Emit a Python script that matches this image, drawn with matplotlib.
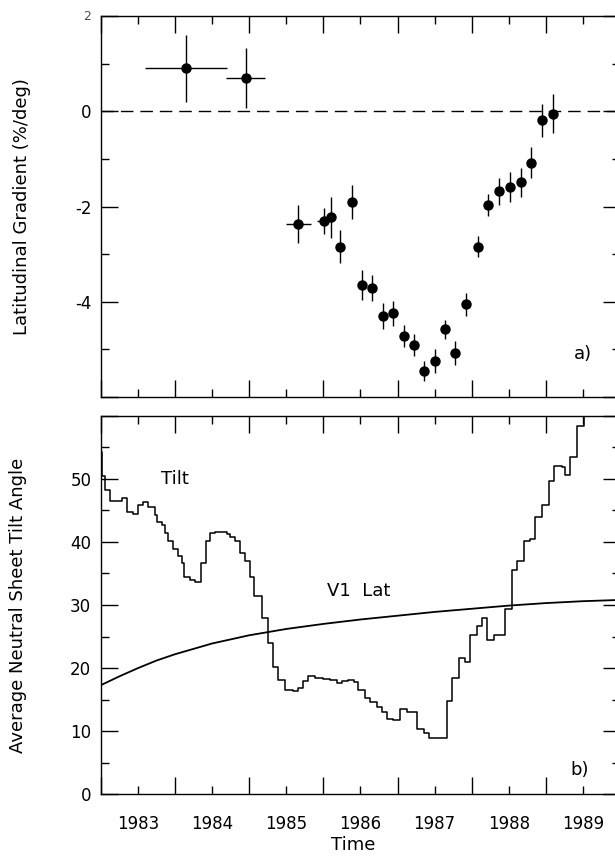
# Latitudinal gradient and neutral sheet tilt vs time (two stacked panels)

import matplotlib
matplotlib.use('Agg')
import matplotlib.pyplot as plt
import numpy as np

plt.rcParams['figure.dpi'] = 100
plt.rcParams['savefig.dpi'] = 100
plt.rcParams['font.family'] = 'DejaVu Sans'
plt.rcParams['font.size'] = 12
plt.rcParams['axes.linewidth'] = 1.0

# Panel a) latitudinal gradient (%/deg)
grad_time = [1984.15, 1984.95, 1985.66, 1986.01, 1986.10, 1986.23, 1986.38,
             1986.52, 1986.66, 1986.80, 1986.94, 1987.09, 1987.22, 1987.35,
             1987.50, 1987.64, 1987.78, 1987.92, 1988.08, 1988.22, 1988.37,
             1988.51, 1988.66, 1988.80, 1988.95, 1989.09]
grad_value = [0.90, 0.69, -2.37, -2.31, -2.23, -2.84, -1.91,
              -3.65, -3.71, -4.30, -4.24, -4.72, -4.91, -5.45,
              -5.24, -4.58, -5.07, -4.05, -2.84, -1.97, -1.68,
              -1.59, -1.49, -1.08, -0.19, -0.05]
grad_err = [0.70, 0.63, 0.40, 0.27, 0.43, 0.34, 0.36,
            0.31, 0.28, 0.28, 0.26, 0.23, 0.23, 0.21,
            0.25, 0.20, 0.25, 0.24, 0.22, 0.23, 0.28,
            0.32, 0.30, 0.33, 0.35, 0.41]
grad_terr = [0.55, 0.26, 0.17, 0.10, 0, 0, 0,
             0, 0, 0, 0, 0, 0, 0,
             0, 0, 0, 0, 0, 0, 0,
             0, 0, 0, 0, 0]

# Panel b) average neutral sheet tilt angle (step per rotation)
tilt_time = [1983.00, 1983.02, 1983.054, 1983.121, 1983.279, 1983.346, 1983.436,
             1983.504, 1983.571, 1983.639, 1983.729, 1983.751, 1983.819, 1983.864,
             1983.909, 1983.976, 1984.043, 1984.088, 1984.124, 1984.201, 1984.268,
             1984.350, 1984.417, 1984.471, 1984.538, 1984.696, 1984.741, 1984.808,
             1984.876, 1984.943, 1985.011, 1985.070, 1985.168, 1985.258, 1985.325,
             1985.393, 1985.483, 1985.596, 1985.663, 1985.731, 1985.798, 1985.888,
             1986.000, 1986.090, 1986.180, 1986.248, 1986.338, 1986.406, 1986.473,
             1986.563, 1986.630, 1986.720, 1986.788, 1986.855, 1986.945, 1987.035,
             1987.125, 1987.193, 1987.260, 1987.350, 1987.418, 1987.665, 1987.733,
             1987.823, 1987.913, 1987.980, 1988.070, 1988.138, 1988.205, 1988.295,
             1988.452, 1988.542, 1988.610, 1988.700, 1988.789, 1988.857, 1988.947,
             1989.037, 1989.104, 1989.217, 1989.262, 1989.329, 1989.419, 1989.509,
             1989.600]
tilt_value = [54.3, 50.5, 48.3, 46.5, 47.0, 44.8, 44.4,
              45.9, 46.3, 45.5, 44.3, 43.2, 42.7, 41.4,
              40.2, 38.8, 37.7, 36.6, 34.5, 33.9, 33.7,
              36.6, 40.2, 41.4, 41.5, 41.2, 40.8, 40.2,
              38.3, 37.0, 34.5, 31.4, 28.0, 23.9, 20.2,
              18.1, 16.5, 16.3, 16.8, 17.9, 18.7, 18.5,
              18.3, 18.1, 17.6, 17.9, 18.1, 17.8, 16.5,
              15.2, 14.7, 13.9, 13.1, 12.0, 11.8, 13.5,
              13.1, 13.0, 10.3, 9.7, 8.9, 14.8, 18.4,
              21.6, 21.0, 25.3, 26.6, 27.9, 24.5, 25.3,
              29.4, 35.6, 36.9, 40.2, 40.4, 43.9, 45.9,
              49.6, 52.1, 51.9, 50.6, 53.4, 58.3, 62.0,
              62.0]

# Voyager 1 heliographic latitude
v1_time = [1983.0, 1983.25, 1983.5, 1983.75, 1984.0, 1984.5, 1985.0, 1985.5,
           1986.0, 1986.5, 1987.0, 1987.5, 1988.0, 1988.5, 1989.0, 1989.5, 1990.0]
v1_lat = [17.3, 18.7, 20.0, 21.2, 22.2, 23.9, 25.2, 26.2,
          27.0, 27.7, 28.3, 28.9, 29.4, 29.9, 30.3, 30.6, 30.8]

year_labels = ['1983', '1984', '1985', '1986', '1987', '1988', '1989']

fig = plt.figure(figsize=(6.15, 8.56))
ax1 = fig.add_axes([0.1642, 0.5362, 0.8439, 0.4451])
ax2 = fig.add_axes([0.1642, 0.0721, 0.8439, 0.4423])

def style_axes(ax):
    ax.set_xlim(1983, 1990)
    ax.set_xticks(np.arange(1983, 1991, 1.0))
    ax.set_xticks(np.arange(1983.5, 1990, 1.0), minor=True)
    ax.tick_params(which='both', direction='in', top=True, right=True,
                   width=1.0, colors='k')
    ax.tick_params(which='major', length=12)
    ax.tick_params(which='minor', length=6)
    ax.tick_params(axis='x', which='both', labelbottom=False)
    ax.tick_params(axis='y', which='major', pad=7, labelsize=12)

#############
#   Panel a #
#############

style_axes(ax1)
ax1.set_ylim(-6, 2)
ax1.set_yticks([-6, -4, -2, 0, 2], labels=['', '-4', '-2', '0', ''])
ax1.set_yticks([-5, -3, -1, 1], minor=True)
ax1.text(-0.02, 2, '2', transform=ax1.get_yaxis_transform(), ha='right',
         va='center', fontsize=9, color='0.3')

ax1.axhline(0, color='k', linewidth=1.0, dashes=(9, 5))
ax1.errorbar(grad_time, grad_value, yerr=grad_err, xerr=grad_terr, fmt='o',
             color='k', markersize=6.5, elinewidth=1.0, capsize=0)

ax1.set_ylabel('Latitudinal Gradient (%/deg)', fontsize=13)
ax1.yaxis.set_label_coords(-0.135, 0.5)
ax1.text(1989.5, -5.09, 'a)', ha='center', va='center', fontsize=13)

#############
#   Panel b #
#############

style_axes(ax2)
ax2.set_ylim(0, 60)
ax2.set_yticks(np.arange(0, 61, 10), labels=['0', '10', '20', '30', '40', '50', ''])
ax2.set_yticks(np.arange(5, 60, 10), minor=True)
ax2.tick_params(axis='x', which='minor', labelbottom=True, pad=15, labelsize=12)
ax2.set_xticklabels(year_labels, minor=True)

ax2.step(tilt_time, tilt_value, where='post', color='k', linewidth=1.1)
ax2.plot(v1_time, v1_lat, color='k', linewidth=1.3)

ax2.text(1984.0, 50.0, 'Tilt', ha='center', va='center', fontsize=13)
ax2.text(1986.48, 32.2, 'V1  Lat', ha='center', va='center', fontsize=13)
ax2.text(1989.46, 3.85, 'b)', ha='center', va='center', fontsize=13)

ax2.set_ylabel('Average Neutral Sheet Tilt Angle', fontsize=13)
ax2.yaxis.set_label_coords(-0.143, 0.5)
ax2.set_xlabel('Time', fontsize=13)
ax2.xaxis.set_label_coords(0.486, -0.11)

plt.savefig('out.png', dpi=100)
